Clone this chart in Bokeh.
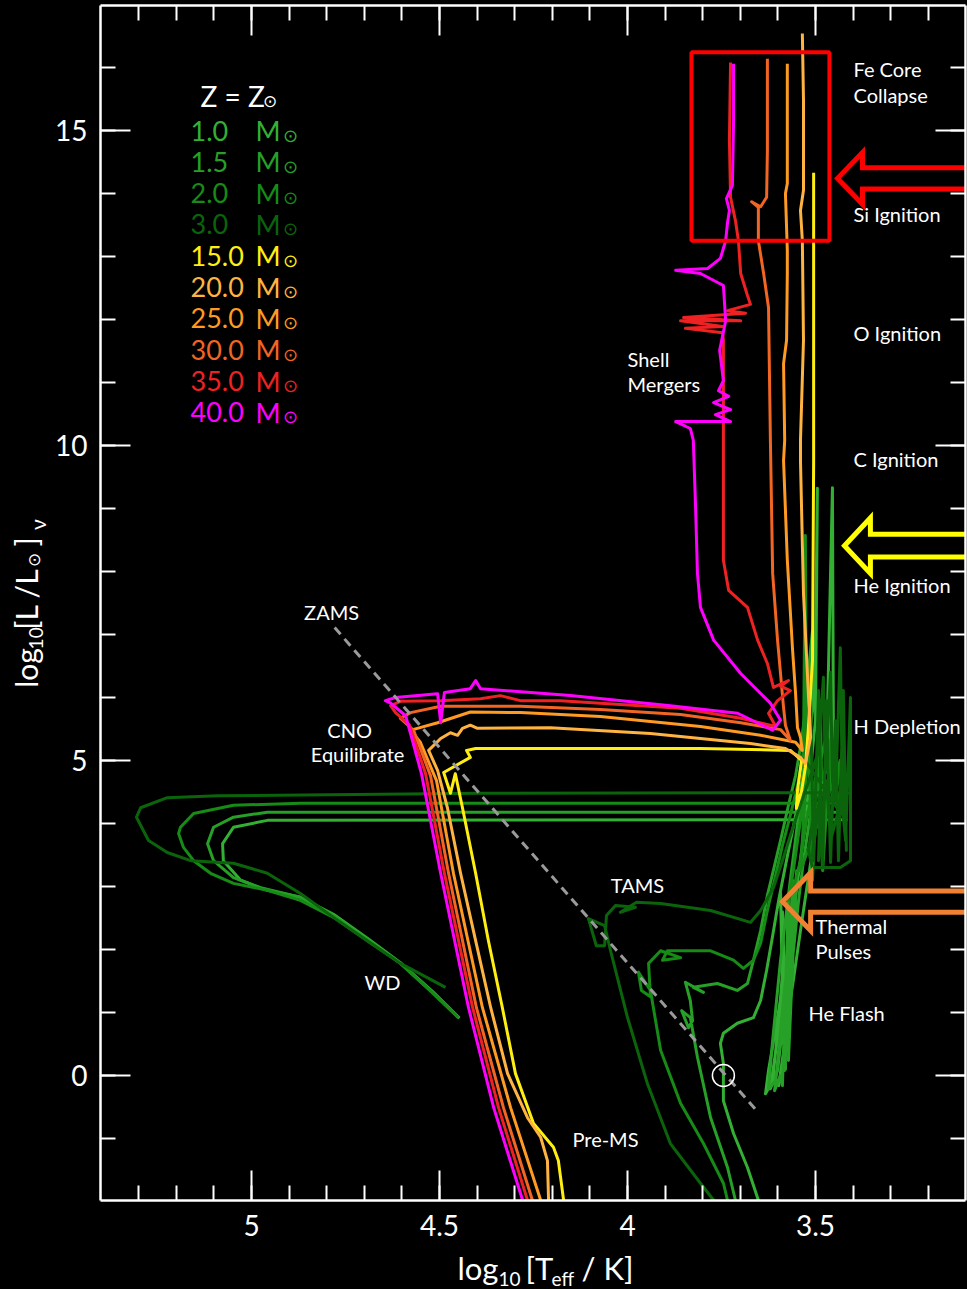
import numpy as np
from bokeh.plotting import figure
from bokeh.layouts import column, row
from bokeh.models import Range1d, LinearAxis, FixedTicker, CustomJSTickFormatter, Label
from bokeh.embed import file_html
from bokeh.resources import INLINE

FONT = "Lato"

# ---------------- data : log10 Teff [K] , log10 L_nu [Lsun] ----------------
mass_labels = ["1.0", "1.5", "2.0", "3.0", "15.0", "20.0", "25.0", "30.0", "35.0", "40.0"]
mass_colors = ["#33b033", "#26a026", "#168c16", "#0b640b", "#ffee11",
               "#ffb340", "#ff9a22", "#f26522", "#ee2222", "#ff00ff"]

m1p0_logT = [3.641, 3.652, 3.681, 3.718, 3.745, 3.745, 3.753, 3.745, 3.708, 3.665, 3.646,
             3.630, 3.614, 3.598, 3.580, 3.561, 3.543, 3.524, 3.508, 3.500, 3.495, 3.500, 3.527,
             3.561, 3.598, 3.625, 3.633, 3.614, 3.598, 3.585, 3.598, 3.620, 3.601, 3.580, 3.567,
             3.577, 3.598, 3.577, 3.588, 3.580, 3.593, 3.585, 3.559, 3.540, 3.524, 3.508, 3.492,
             3.479, 3.471, 3.455, 3.452, 3.439, 3.426, 3.418,
             4.958, 5.048, 5.077, 5.075, 5.029, 4.958, 4.870, 4.782, 4.692, 4.604, 4.516, 4.447]
m1p0_logL = [-2.22, -1.98, -1.46, -0.92, -0.40, 0.19, 0.51, 0.67, 0.83, 0.92, 1.19,
             1.67, 2.22, 2.78, 3.33, 3.89, 4.44, 5.08, 5.79, 6.91, 9.32, 5.64, 4.05,
             2.46, 1.03, 0.08, -0.29, -0.08, 0.87, 1.83, 0.71, -0.21, 0.08, 1.19, 1.83,
             0.71, -0.16, 0.40, 2.60, 0.10, 2.90, 0.50, 1.51, 2.30, 2.94, 3.57, 4.21,
             4.68, 5.00, 9.33, 4.68, 4.37, 4.13, 4.06,
             4.05, 3.94, 3.68, 3.41, 3.10, 2.94, 2.83, 2.56, 2.18, 1.79, 1.32, 0.91]

m1p5_logT = [3.702, 3.713, 3.734, 3.779, 3.814, 3.833, 3.856, 3.838, 3.827, 3.833, 3.846,
             3.798, 3.825, 3.761, 3.708, 3.681, 3.665,
             3.646, 3.628, 3.609, 3.590, 3.572, 3.553, 3.537, 3.524, 3.516, 3.508, 3.513,
             3.540, 3.567, 3.593, 3.614, 3.625, 3.606, 3.593, 3.580, 3.593, 3.609, 3.593,
             3.588, 3.572, 3.582, 3.561, 3.572, 3.550,
             3.577, 3.567, 3.556, 3.545, 3.532, 3.516, 3.500, 3.487, 3.474, 3.466, 3.460,
             3.447, 3.434, 3.428, 3.418,
             4.958, 5.048, 5.101, 5.117, 5.101, 5.048, 4.976, 4.870, 4.782, 4.692, 4.604,
             4.516, 4.450]
m1p5_logL = [-2.22, -1.98, -1.46, -0.67, 0.29, 0.92, 1.03, 0.76, 0.87, 1.19, 1.48,
             1.32, 1.40, 1.46, 1.35, 1.46, 1.83,
             2.30, 2.86, 3.33, 3.81, 4.29, 4.76, 5.32, 5.95, 6.59, 7.06, 5.95,
             4.37, 3.10, 1.83, 0.56, -0.21, -0.08, 0.71, 1.51, 0.56, -0.24, 0.00,
             -0.16, 2.78, 0.08, 3.10, 0.24, 3.25,
             0.87, 1.51, 2.14, 2.78, 3.41, 4.05, 4.52, 5.00, 5.32, 5.95, 4.68,
             4.52, 5.00, 4.21, 4.18,
             4.18, 4.10, 3.94, 3.68, 3.41, 3.14, 2.98, 2.83, 2.54, 2.16, 1.78,
             1.30, 0.92]

m2p0_logT = [3.726, 3.734, 3.745, 3.798, 3.859, 3.912, 3.939, 3.971, 3.963, 3.939, 3.944,
             3.912, 3.859, 3.907, 3.894, 3.779, 3.718, 3.692, 3.665, 3.646,
             3.628, 3.606, 3.588, 3.567, 3.548, 3.532, 3.527, 3.524, 3.540, 3.559, 3.572,
             3.553, 3.540, 3.524, 3.508, 3.495, 3.487, 3.484, 3.471, 3.460, 3.455, 3.444,
             3.434, 3.540, 3.519, 3.508, 3.495, 3.481, 3.466, 3.428, 3.418,
             4.870, 5.048, 5.154, 5.189, 5.194, 5.181, 5.154, 5.109, 5.048, 4.958, 4.870,
             4.782, 4.692, 4.604, 4.516, 4.450]
m2p0_logL = [-2.22, -1.98, -1.71, -1.08, -0.44, 0.40, 1.35, 1.64, 1.35, 1.25, 1.78,
             1.98, 1.87, 1.83, 1.98, 1.98, 1.83, 1.70, 1.83, 2.10,
             2.62, 3.18, 3.65, 4.13, 4.60, 5.16, 8.57, 5.00, 4.05, 3.25, 2.78,
             3.10, 3.41, 4.05, 4.52, 4.84, 5.95, 4.68, 4.84, 5.32, 4.37, 4.52,
             5.00, 3.25, 5.32, 3.10, 5.00, 3.25, 4.68, 4.37, 4.32,
             4.32, 4.29, 4.16, 3.94, 3.84, 3.62, 3.41, 3.21, 3.05, 2.94, 2.78,
             2.51, 2.14, 1.78, 1.30, 0.92]

m3p0_logT = [3.758, 3.771, 3.806, 3.886, 3.947, 4.000, 4.045, 4.061, 4.104, 4.083, 4.061,
             4.056, 4.032, 3.979, 4.019, 3.976, 3.912, 3.779, 3.673, 3.646, 3.612,
             3.588, 3.567, 3.545, 3.527, 3.508, 3.492, 3.479, 3.474, 3.460, 3.455, 3.447,
             3.434, 3.428, 3.420, 3.407, 3.407, 3.434, 3.508, 3.519, 3.500, 3.508, 3.487,
             3.492, 3.471, 3.460, 3.439,
             3.527, 3.513, 3.505, 3.492, 3.481, 3.471, 3.460, 3.447, 3.439, 3.426, 3.418,
             3.420, 3.412,
             4.391, 5.091, 5.224, 5.295, 5.306, 5.274, 5.224, 5.162, 5.048, 4.958, 4.870,
             4.782, 4.692, 4.604, 4.484]
m3p0_logL = [-2.22, -1.98, -1.71, -1.08, -0.13, 0.92, 1.98, 2.38, 2.49, 2.06, 2.06,
             2.54, 2.70, 2.67, 2.59, 2.75, 2.73, 2.62, 2.43, 2.62, 2.98,
             3.41, 3.81, 4.21, 4.52, 4.84, 5.16, 6.32, 4.84, 6.40, 4.68, 4.37,
             6.79, 4.21, 3.73, 6.00, 3.41, 3.30, 3.30, 3.57, 4.37, 3.49, 4.52,
             3.41, 4.68, 3.73, 4.21,
             5.00, 5.95, 3.41, 6.11, 3.33, 5.95, 3.38, 5.63, 3.41, 6.11, 3.57,
             4.44, 4.49,
             4.48, 4.44, 4.41, 4.25, 4.10, 3.73, 3.54, 3.41, 3.37, 3.21, 2.89,
             2.51, 2.14, 1.78, 1.40]

m15_logT = [4.162, 4.170, 4.184, 4.197, 4.250, 4.298, 4.333, 4.370, 4.404, 4.439, 4.458,
            4.471, 4.489, 4.418, 4.428, 4.404, 4.205, 3.806, 3.567, 3.537, 3.548, 3.551,
            3.537, 3.527, 3.519, 3.508, 3.505, 3.505]
m15_logL = [-2.22, -1.98, -1.35, -1.14, -0.76, 0.03, 1.08, 2.14, 3.21, 4.25, 4.79,
            4.48, 4.81, 5.05, 5.16, 5.19, 5.19, 5.19, 5.16, 5.00, 4.52, 4.24,
            4.52, 4.89, 5.52, 6.59, 9.76, 14.33]

m20_logT = [4.197, 4.210, 4.213, 4.231, 4.266, 4.319, 4.364, 4.404, 4.444, 4.479, 4.505,
            4.529, 4.497, 4.471, 4.452, 4.439, 4.418, 4.399, 4.205, 3.939, 3.673, 3.580,
            3.540, 3.527, 3.513, 3.519, 3.532, 3.540, 3.540, 3.532, 3.535, 3.540, 3.532,
            3.532, 3.535]
m20_logL = [-2.22, -1.98, -1.35, -0.98, -0.67, 0.03, 1.08, 2.14, 3.21, 4.25, 4.84,
            5.16, 5.35, 5.44, 5.40, 5.51, 5.56, 5.51, 5.52, 5.43, 5.27, 5.19,
            5.05, 4.95, 5.37, 6.06, 7.65, 9.76, 10.08, 11.67, 13.25, 13.73, 14.05,
            15.48, 16.54]

m25_logT = [4.218, 4.231, 4.311, 4.386, 4.463, 4.508, 4.551, 4.577, 4.559, 4.505, 4.418,
            4.285, 4.072, 3.806, 3.646, 3.553, 3.535, 3.540, 3.548, 3.553, 3.561, 3.575,
            3.585, 3.582, 3.585, 3.577, 3.575, 3.575, 3.580, 3.575, 3.575]
m25_logL = [-2.22, -1.98, -0.51, 1.08, 3.21, 4.68, 5.29, 5.48, 5.51, 5.60, 5.77,
            5.76, 5.70, 5.54, 5.40, 5.29, 5.16, 5.37, 5.52, 6.06, 6.75, 8.18,
            9.76, 10.08, 11.30, 11.67, 12.73, 13.10, 14.00, 14.16, 16.06]

m30_logT = [4.239, 4.253, 4.330, 4.402, 4.476, 4.524, 4.569, 4.604, 4.577, 4.497, 4.391,
            4.285, 4.072, 3.859, 3.699, 3.593, 3.567, 3.580, 3.585, 3.601, 3.614, 3.620,
            3.625, 3.638, 3.652, 3.652, 3.670, 3.646, 3.630, 3.628, 3.628]
m30_logL = [-2.22, -1.98, -0.51, 1.08, 3.21, 4.76, 5.48, 5.67, 5.76, 5.86, 5.86,
            5.86, 5.81, 5.73, 5.60, 5.49, 5.32, 5.56, 5.84, 6.91, 7.97, 10.08,
            12.19, 12.73, 13.25, 13.78, 13.87, 13.79, 13.94, 14.68, 16.14]

m35_logT = [4.253, 4.266, 4.343, 4.412, 4.487, 4.537, 4.580, 4.617, 4.630, 4.604, 4.497,
            4.391, 4.338, 4.285, 4.178, 4.072, 3.966, 3.859, 3.699, 3.606, 3.625, 3.601,
            3.567, 3.593, 3.572, 3.612, 3.628, 3.654, 3.681, 3.731, 3.745, 3.745, 3.745,
            3.747, 3.846, 3.747, 3.859, 3.699, 3.851, 3.686, 3.734, 3.673, 3.681, 3.699,
            3.705, 3.713, 3.726, 3.729, 3.726]
m35_logL = [-2.22, -1.98, -0.51, 1.08, 3.21, 4.79, 5.56, 5.76, 5.87, 5.94, 5.95,
            5.98, 6.03, 5.95, 5.95, 5.91, 5.87, 5.83, 5.67, 5.54, 5.75, 5.95,
            6.11, 6.18, 6.27, 6.16, 6.54, 6.91, 7.43, 7.70, 8.18, 9.92, 11.67,
            11.79, 11.86, 11.89, 11.98, 11.98, 12.03, 12.10, 12.14, 12.24, 12.38, 12.73,
            13.25, 13.57, 13.94, 14.84, 16.08]

m40_logT = [4.266, 4.279, 4.356, 4.423, 4.497, 4.548, 4.590, 4.630, 4.644, 4.617, 4.505,
            4.497, 4.487, 4.418, 4.404, 4.391, 4.152, 3.886, 3.707, 3.614, 3.593, 3.620,
            3.699, 3.771, 3.806, 3.814, 3.819, 3.825, 3.833, 3.872, 3.726, 3.766, 3.726,
            3.771, 3.731, 3.758, 3.745, 3.755, 3.739, 3.745, 3.806, 3.872, 3.787, 3.753,
            3.739, 3.734, 3.729, 3.737, 3.721, 3.718, 3.718]
m40_logL = [-2.22, -1.98, -0.51, 1.08, 3.21, 4.79, 5.71, 5.91, 5.95, 6.00, 6.06,
            5.60, 6.08, 6.14, 6.27, 6.14, 6.03, 5.87, 5.75, 5.48, 5.64, 5.91,
            6.38, 6.91, 7.43, 7.97, 9.02, 10.08, 10.27, 10.38, 10.38, 10.49, 10.57,
            10.68, 10.78, 10.87, 11.03, 11.51, 11.98, 12.54, 12.73, 12.78, 12.81, 12.97,
            13.25, 13.54, 13.73, 13.92, 14.13, 15.16, 16.06]

track_logT = [m1p0_logT, m1p5_logT, m2p0_logT, m3p0_logT, m15_logT,
              m20_logT, m25_logT, m30_logT, m35_logT, m40_logT]
track_logL = [m1p0_logL, m1p5_logL, m2p0_logL, m3p0_logL, m15_logL,
              m20_logL, m25_logL, m30_logL, m35_logL, m40_logL]

zams_logT = [4.779, 3.652]
zams_logL = [7.11, -0.59]
sun_logT = [3.745]
sun_logL = [0.0]

x_major = [5.0, 4.5, 4.0, 3.5]
x_minor = [3.2, 3.3, 3.4, 3.5, 3.6, 3.7, 3.8, 3.9, 4.0, 4.1, 4.2, 4.3, 4.4, 4.5,
           4.6, 4.7, 4.8, 4.9, 5.0, 5.1, 5.2, 5.3]
y_major = [0, 5, 10, 15]
y_minor = list(range(-1, 17))

# ---------------- main figure ----------------
BOT = 50
p = figure(frame_width=865, frame_height=1195,
           x_range=Range1d(5.4017, 3.1011), y_range=Range1d(-1.984, 16.984),
           output_backend="svg", toolbar_location=None,
           min_border_left=50, min_border_right=2, min_border_top=5, min_border_bottom=BOT,
           background_fill_color="black", border_fill_color="black",
           outline_line_color=None)
p.xgrid.visible = False
p.ygrid.visible = False

fmt = CustomJSTickFormatter(code="return String(tick);")


def style_axis(ax, ticks, minors, labels):
    ax.ticker = FixedTicker(ticks=ticks, minor_ticks=minors)
    ax.axis_line_color = "white"
    ax.axis_line_width = 2.5
    ax.major_tick_line_color = "white"
    ax.major_tick_line_width = 2
    ax.minor_tick_line_color = "white"
    ax.minor_tick_line_width = 2
    ax.major_tick_in = 30
    ax.major_tick_out = 0
    ax.minor_tick_in = 15
    ax.minor_tick_out = 0
    ax.formatter = fmt
    ax.axis_label = None
    if labels:
        ax.major_label_text_color = "white"
        ax.major_label_text_font = FONT
        ax.major_label_text_font_size = "28px"
    else:
        ax.major_label_text_color = None
        ax.major_label_text_font_size = "1px"
        ax.major_label_standoff = 0


style_axis(p.xaxis[0], x_major, x_minor, True)
p.xaxis[0].major_label_standoff = 14
style_axis(p.yaxis[0], y_major, y_minor, True)
p.yaxis[0].major_label_standoff = 13

top_ax = LinearAxis()
style_axis(top_ax, x_major, x_minor, False)
p.add_layout(top_ax, "above")
right_ax = LinearAxis()
style_axis(right_ax, y_major, y_minor, False)
p.add_layout(right_ax, "right")

# ---------------- tracks ----------------
for tx, ty, c in zip(track_logT, track_logL, mass_colors):
    p.line(tx, ty, line_color=c, line_width=3, line_join="round")

p.line(zams_logT, zams_logL, line_color="#9a9a9a", line_width=3, line_dash="9 6")
p.scatter(sun_logT, sun_logL, marker="circle", size=22, fill_color=None,
          line_color="white", line_width=1.5)

# red box around the Si / Fe phases
p.quad(left=[3.463], right=[3.830], bottom=[13.25], top=[16.24],
       fill_color=None, line_color="#ff0000", line_width=4)


def arrow(tip_x, tip_y, back_x, head_half, shaft_half, color, end_x=3.0):
    xs = [tip_x, back_x, back_x, end_x, end_x, back_x, back_x]
    ys = [tip_y, tip_y + head_half, tip_y + shaft_half, tip_y + shaft_half,
          tip_y - shaft_half, tip_y - shaft_half, tip_y - head_half]
    p.patch(xs, ys, fill_color=None, line_color=color, line_width=5, line_join="miter")


arrow(3.4415, 14.24, 3.375, 0.41, 0.167, "#ff0000")
arrow(3.423, 8.41, 3.354, 0.44, 0.18, "#ffff00")
arrow(3.588, 2.76, 3.513, 0.46, 0.167, "#f08133")


# ---------------- annotation texts ----------------
def txt(x, y, s, align="left", size="20px", color="white"):
    p.add_layout(Label(x=x, y=y, text=s, text_color=color, text_font=FONT,
                       text_font_size=size, text_align=align, text_baseline="middle"))


txt(4.787, 7.35, "ZAMS", "center")
txt(4.739, 5.49, "CNO", "center")
txt(4.718, 5.10, "Equilibrate", "center")
txt(4.652, 1.49, "WD", "center")
txt(3.9735, 3.02, "TAMS", "center")
txt(4.0586, -1.0, "Pre-MS", "center")
txt(3.5186, 1.0, "He Flash")
txt(3.500, 2.38, "Thermal")
txt(3.500, 1.98, "Pulses")
txt(4.000, 11.38, "Shell")
txt(4.000, 10.98, "Mergers")
txt(3.399, 15.97, "Fe Core")
txt(3.399, 15.57, "Collapse")
txt(3.399, 13.68, "Si Ignition")
txt(3.399, 11.78, "O Ignition")
txt(3.399, 9.78, "C Ignition")
txt(3.399, 7.78, "He Ignition")
txt(3.399, 5.54, "H Depletion")


# ---------------- legend (screen units, relative to frame bottom-left) ----------------
def slabel(fig, xs, ys, s, size, color="white", align="left", baseline="middle",
           angle=0.0, units="screen"):
    fig.add_layout(Label(x=xs, y=ys, x_units=units, y_units=units, text=s,
                         text_color=color, text_font=FONT, text_font_size=size,
                         text_align=align, text_baseline=baseline, angle=angle))


slabel(p, 100, 1200 - 95, "Z = Z", "28px")
slabel(p, 162, 1200 - 100, "\u2299", "17px")
for i, (lab, col) in enumerate(zip(mass_labels, mass_colors)):
    yc = 1200 - (130 + 31.33 * i)
    slabel(p, 90, yc, lab, "27px", col)
    slabel(p, 155, yc, "M", "27px", col)
    slabel(p, 182, yc - 4, "\u2299", "18px", col)

# ---------------- axis-label strips (coordinates = page pixels) ----------------
P_H = 5 + 1195 + BOT
yl = figure(width=50, height=P_H, x_range=Range1d(0, 50), y_range=Range1d(P_H, 0),
            x_axis_type=None, y_axis_type=None, output_backend="svg", toolbar_location=None,
            min_border=0, background_fill_color="black", border_fill_color="black",
            outline_line_color=None)
xl = figure(width=967, height=1289 - P_H, x_range=Range1d(0, 967), y_range=Range1d(1289, P_H),
            x_axis_type=None, y_axis_type=None, output_backend="svg", toolbar_location=None,
            min_border=0, background_fill_color="black", border_fill_color="black",
            outline_line_color=None)

# x axis label: log10 [Teff / K]   (left aligned, vertically centred)
slabel(xl, 457, 1267, "log", "31px", units="data")
slabel(xl, 498, 1278, "10", "19px", units="data")
slabel(xl, 525, 1267, "[T", "31px", units="data")
slabel(xl, 551, 1278, "eff", "19px", units="data")
slabel(xl, 581, 1267, "/ K]", "31px", units="data")

# y axis label: log10 [L / Lsun]_nu  (rotated, centred pieces)
ang = np.pi / 2
slabel(yl, 25.5, 693, "log", "30px", align="center", angle=ang, units="data")
slabel(yl, 35, 662, "10", "19px", align="center", angle=ang, units="data")
slabel(yl, 25.5, 621, "[L /L", "30px", align="center", angle=ang, units="data")
slabel(yl, 33, 580, "\u2299", "17px", align="center", angle=ang, units="data")
slabel(yl, 25.5, 561, "]", "30px", align="center", angle=ang, units="data")
slabel(yl, 36.5, 543, "\u03bd", "21px", align="center", angle=ang, units="data")

page = column(row(yl, p), xl)

html = file_html(page, INLINE)
html = html.replace("</head>", "<style>html,body{background:#000000;}</style></head>", 1)
open("out.html", "w").write(html)
